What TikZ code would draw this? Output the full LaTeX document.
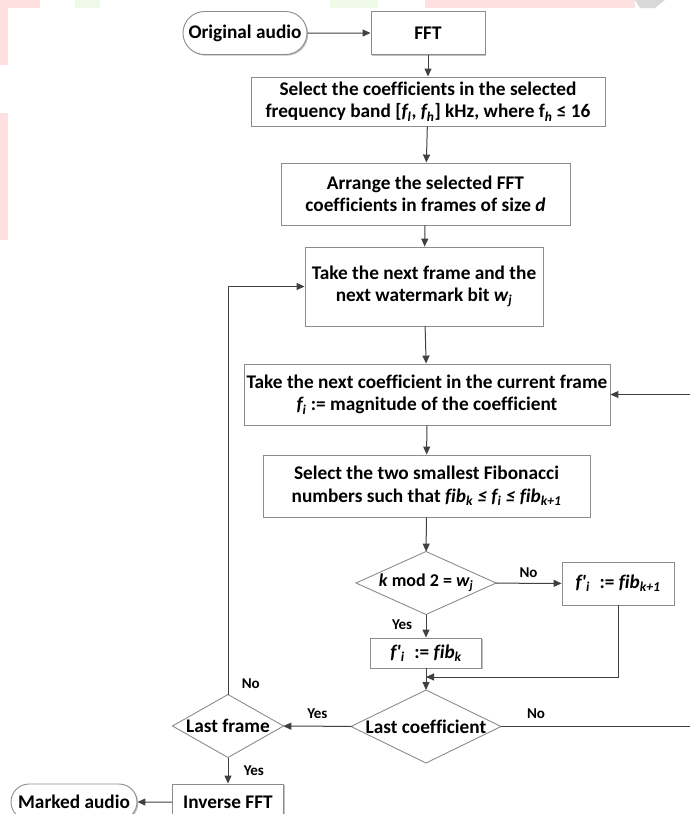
\documentclass[tikz,border=0pt]{standalone}
\usepackage{fontspec}
\setmainfont{Carlito}[Ligatures={TeXOff,NoCommon}]
\usetikzlibrary{shapes.geometric,shapes.misc,arrows.meta,shadows}
\definecolor{boxgray}{HTML}{8C8C8C}
\definecolor{arrgray}{HTML}{404040}
\definecolor{wpink}{HTML}{FFE0E0}
\definecolor{wgreen}{HTML}{F0FAE8}
\definecolor{wgray}{HTML}{D8D8D8}
\begin{document}
\begin{tikzpicture}[x=1pt,y=-1pt,
  every node/.style={font=\bfseries\fontsize{19.3}{22.5}\selectfont, text=black},
  shad/.style={drop shadow={shadow xshift=1.2pt,shadow yshift=-1.2pt,opacity=0.25,fill=black}},
  pbox/.style={draw=boxgray, line width=0.9pt, fill=white, align=center, inner sep=1pt, shad},
  term/.style={rounded rectangle, draw=boxgray, line width=0.9pt, fill=white, inner sep=1pt, shad},
  dec/.style={diamond, draw=boxgray, line width=0.9pt, fill=white, inner sep=0pt, outer sep=0pt},
  lbl/.style={font=\bfseries\fontsize{15}{17}\selectfont},
  conn/.style={draw=arrgray, line width=1pt},
  arr/.style={conn, -{Triangle[length=8pt,width=7pt]}}
]
\useasboundingbox (0,0) rectangle (690,814);
% faint background remnants
\fill[wpink] (0,0) rectangle (40,8);
\fill[wpink] (0,0) rectangle (8,65);
\fill[wpink] (0,113) rectangle (8,240);
\fill[wgreen] (75,0) rectangle (100,8);
\fill[wgreen] (330,0) rectangle (378,8);
\fill[wpink] (425,0) rectangle (635,8);
\fill[wgray] (635,0) -- (665,0) -- (655,8) -- (640,8) -- cycle;

\node[term, minimum width=126pt, minimum height=43pt] (orig) at (245,33) {Original audio};
\node[pbox, minimum width=114pt, minimum height=43pt] (fft) at (428,33) {FFT};
\node[pbox, minimum width=354pt, minimum height=49pt] (sel) at (428,101.5)
  {Select the coefficients in the selected\\frequency band [\textit{f\textsubscript{l}}, \textit{f\textsubscript{h}}] kHz, where f\textsubscript{\textit{h}} ≤ 16};
\node[pbox, minimum width=289pt, minimum height=62pt] (arrange) at (425.5,194)
  {Arrange the selected FFT\\coefficients in frames of size \textit{d}};
\node[pbox, minimum width=238pt, minimum height=79pt] (frame) at (424,286.5)
  {Take the next frame and the\\next watermark bit \textit{w\textsubscript{j}}};
\node[pbox, minimum width=366pt, minimum height=61pt] (coef) at (427,394.5)
  {Take the next coefficient in the current frame\\\textit{f\textsubscript{i}} := magnitude of the coefficient};
\node[pbox, minimum width=327pt, minimum height=62pt] (fib) at (426.5,486)
  {Select the two smallest Fibonacci\\numbers such that \textit{fib\textsubscript{k} ≤ f\textsubscript{i} ≤ fib\textsubscript{k+1}}};
\node[dec, minimum width=140pt, minimum height=63pt, label={[font=\bfseries\fontsize{18}{20}\selectfont]center:{\textit{k} mod 2 = \textit{w\textsubscript{j}}}}] (kmod) at (426,583) {};
\node[pbox, minimum width=112pt, minimum height=43pt] (fk1) at (618,583.5)
  {\textit{f'\textsubscript{i}}\enspace:= \textit{fib\textsubscript{k+1}}};
\node[pbox, minimum width=111pt, minimum height=30pt] (fk) at (426,653)
  {\textit{f'\textsubscript{i}}\enspace:= \textit{fib\textsubscript{k}}};
\node[dec, minimum width=150pt, minimum height=73pt, label={center:{Last coefficient}}] (lastc) at (426,726.5) {};
\node[dec, minimum width=111pt, minimum height=63pt, label={center:{Last frame}}] (lastf) at (228,726) {};
\node[pbox, minimum width=111pt, minimum height=36pt] (ifft) at (228,802) {Inverse FFT};
\node[term, minimum width=128pt, minimum height=36pt] (marked) at (74,802) {Marked audio};

\coordinate (join) at (426,677);
\coordinate (rc) at (720,726.5);
\coordinate (lc) at (228,286.5);

\draw[arr] (orig) -- (fft);
\draw[arr] (fft) -- (sel);
\draw[arr] (sel) -- (arrange);
\draw[arr] (arrange) -- (frame);
\draw[arr] (frame) -- (coef);
\draw[arr] (coef) -- (fib);
\draw[arr] (fib) -- (kmod);
\draw[arr] (kmod) -- node[lbl, above, pos=0.5, yshift=2pt] {No} (fk1);
\draw[arr] (kmod) -- node[lbl, left, pos=0.45, xshift=-10pt] {Yes} (fk);
\draw[arr] (fk) -- (lastc);
\draw[arr] (fk1.south) |- (join);
\draw[arr] (lastc.east) -- node[lbl, above, pos=0.16, yshift=4pt] {No} (rc) |- (coef.east);
\draw[arr] (lastc) -- node[lbl, above, pos=0.5, yshift=4pt] {Yes} (lastf);
\draw[arr] (lastf.north) -- node[lbl, pos=0, above right, xshift=10pt, yshift=2pt] {No} (lc) -- (frame.west);
\draw[arr] (lastf) -- node[lbl, right, xshift=12pt] {Yes} (ifft);
\draw[arr] (ifft) -- (marked);
\end{tikzpicture}
\end{document}
